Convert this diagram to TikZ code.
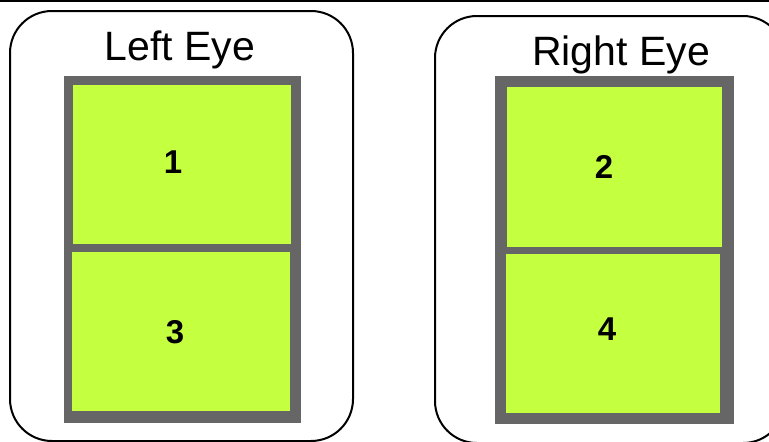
\documentclass[tikz,border=0pt]{standalone}
\usepackage{fontspec}
\setmainfont{Liberation Sans}
\definecolor{cellgreen}{RGB}{196,255,64}
\definecolor{framegray}{RGB}{102,102,102}
\begin{document}
\begin{tikzpicture}[x=1pt,y=-1pt,
  eyebox/.style={draw=black, line width=2pt, rounded corners=42pt},
  frame/.style={fill=framegray, draw=none},
  cell/.style={fill=cellgreen, draw=none},
  eyelabel/.style={anchor=base, inner sep=0pt, font=\fontsize{41}{41}\selectfont},
  num/.style={inner sep=0pt, font=\fontsize{33}{33}\selectfont\bfseries}]
\useasboundingbox (0,0) rectangle (769,442);
\begin{scope}
\clip (0,0) rectangle (769,442);
\draw[line width=2pt] (0,0.5) -- (769,0.5);
\draw[eyebox] (10,11) rectangle (353,441);
\draw[eyebox] (435,16) rectangle (785,443);
\end{scope}
% left eye
\node[eyelabel] (lefteye) at (180,60) {Left Eye};
\path[frame] (64,76) rectangle (301,423);
\path[cell] (73,85) rectangle (291,244);
\path[cell] (72,252) rectangle (290,411);
\node[num] (n1) at (173,162) {1};
\node[num] (n3) at (175,332) {3};
% right eye
\node[eyelabel] (righteye) at (621,65) {Right Eye};
\path[frame] (495,76) rectangle (734,424);
\path[cell] (507,87) rectangle (722,247);
\path[cell] (506,254) rectangle (720,413);
\node[num] (n2) at (604,167) {2};
\node[num] (n4) at (607,329) {4};
\end{tikzpicture}
\end{document}
